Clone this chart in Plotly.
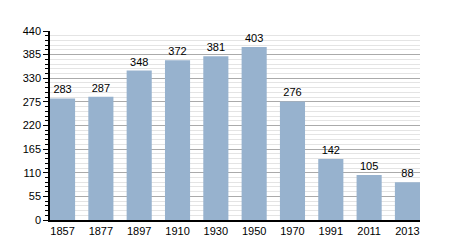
import plotly.graph_objects as go

years = ["1857", "1877", "1897", "1910", "1930", "1950", "1970", "1991", "2011", "2013"]
population = [283, 287, 348, 372, 381, 403, 276, 142, 105, 88]
y_ticks = [0, 55, 110, 165, 220, 275, 330, 385, 440]

bargap = 0.345
half = (1 - bargap) / 2

fig = go.Figure(go.Bar(
    x=years, y=population,
    marker=dict(color="#97b2ce", line=dict(width=0)),
    text=[str(v) for v in population], textposition="outside",
    textfont=dict(color="black", size=11, family="Liberation Sans, Arial, sans-serif"),
    cliponaxis=False,
))

fig.update_layout(
    width=450, height=250,
    margin=dict(l=50, r=30, t=31, b=30),
    plot_bgcolor="white", paper_bgcolor="white",
    bargap=bargap,
    showlegend=False,
    font=dict(family="Liberation Sans, Arial, sans-serif", size=11, color="black"),
    xaxis=dict(type="category", range=[-half, len(years) - 1 + half],
               showline=True, linecolor="black", linewidth=1.5,
               ticks="", showgrid=False, tickfont=dict(size=11)),
    yaxis=dict(range=[0, 440], tickvals=y_ticks, showline=True, linecolor="black",
               linewidth=1.5, ticks="outside", ticklen=5, tickcolor="black",
               showgrid=True, gridcolor="#aaaaaa", gridwidth=1, zeroline=False,
               tickfont=dict(size=11),
               minor=dict(dtick=11, tick0=0, showgrid=True, gridcolor="#e4e4e4",
                          ticks="outside", ticklen=3, tickcolor="black")),
)

fig.write_html("out.html")
